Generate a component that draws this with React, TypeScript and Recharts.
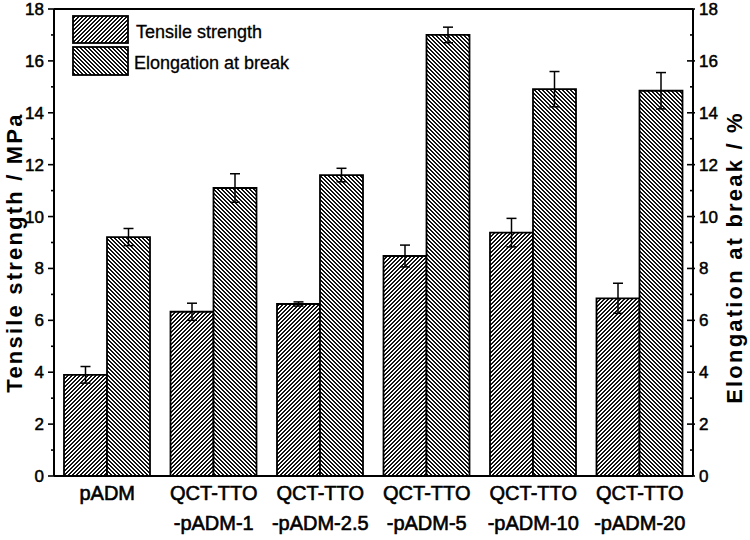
import React from "react";
import { BarChart, Bar, XAxis, YAxis, ErrorBar, ReferenceLine } from "recharts";

const categories = [
  "pADM",
  "QCT-TTO\n-pADM-1",
  "QCT-TTO\n-pADM-2.5",
  "QCT-TTO\n-pADM-5",
  "QCT-TTO\n-pADM-10",
  "QCT-TTO\n-pADM-20",
];
const tensile = [3.9, 6.33, 6.63, 8.48, 9.38, 6.85];
const tensileErr = [0.32, 0.33, 0.08, 0.42, 0.55, 0.58];
const elongation = [9.21, 11.1, 11.6, 17.0, 14.91, 14.85];
const elongationErr = [0.33, 0.55, 0.26, 0.3, 0.68, 0.7];
const yTicks = [0, 1, 2, 3, 4, 5, 6, 7, 8, 9, 10, 11, 12, 13, 14, 15, 16, 17, 18];
const seriesNames = ["Tensile strength", "Elongation at break"];
const leftTitle = "Tensile strength / MPa";
const rightTitle = "Elongation at break / %";

const data = categories.map((c, i) => ({
  name: c,
  tensile: tensile[i],
  tensileErr: tensileErr[i],
  elongation: elongation[i],
  elongationErr: elongationErr[i],
}));

const FONT = "'Liberation Sans', Arial, sans-serif";

// crisp pixel staircase hatch, 4px period
const Hatch = ({ id, dir }: { id: string; dir: "fwd" | "back" }) => {
  const rows = dir === "fwd" ? [2, 1, 0, 3] : [0, 1, 2, 3];
  return (
    <pattern id={id} patternUnits="userSpaceOnUse" x={0} y={0} width={4} height={4}>
      <rect x={0} y={0} width={4} height={4} fill="#fff" />
      {rows.map((c, r) => (
        <g key={r}>
          <rect x={c} y={r} width={c === 3 ? 1 : 2} height={1} fill="#111" shapeRendering="crispEdges" />
          {c === 3 && <rect x={0} y={r} width={1} height={1} fill="#111" shapeRendering="crispEdges" />}
        </g>
      ))}
    </pattern>
  );
};

const LeftTick = (props: any) => {
  const { x, y, payload } = props;
  const v = payload.value;
  const major = v % 2 === 0;
  return (
    <g>
      <line x1={x - (major ? 6 : 3)} x2={x} y1={y} y2={y} stroke="#000" strokeWidth={1.6} />
      {major && (
        <text x={x - 10} y={y} dy="0.35em" textAnchor="end" fontFamily={FONT} fontSize={17} fill="#000" stroke="#000" strokeWidth={0.5}>
          {v}
        </text>
      )}
    </g>
  );
};

const RightTick = (props: any) => {
  const { x, y, payload } = props;
  const v = payload.value;
  const major = v % 2 === 0;
  return (
    <g>
      <line x1={x - (major ? 6 : 3)} x2={x + (major ? 2 : 1)} y1={y} y2={y} stroke="#000" strokeWidth={1.6} />
      {major && (
        <text x={x + 6} y={y} dy="0.35em" textAnchor="start" fontFamily={FONT} fontSize={17} fill="#000" stroke="#000" strokeWidth={0.5}>
          {v}
        </text>
      )}
    </g>
  );
};

const CatTick = (props: any) => {
  const { x, y, payload } = props;
  const lines = String(payload.value).split("\n");
  return (
    <text x={x} y={y} textAnchor="middle" fontFamily={FONT} fontSize={20} fill="#000" stroke="#000" strokeWidth={0.6}>
      {lines.map((l, i) => (
        <tspan key={i} x={x} y={y + 24 + i * 30}>
          {l}
        </tspan>
      ))}
    </text>
  );
};

const AxisTitle = (props: any) => {
  const { viewBox, value, side } = props;
  const vb = viewBox || {};
  const cx = side === "left" ? vb.x + 14 : vb.x + vb.width - 16;
  const cy = vb.y + vb.height / 2 + (side === "left" ? 10 : 15);
  return (
    <text
      x={cx}
      y={cy}
      dy="0.35em"
      textAnchor="middle"
      transform={`rotate(-90, ${cx}, ${cy})`}
      fontFamily={FONT}
      fontSize={22}
      fontWeight="bold"
      letterSpacing={2.2}
      fill="#000"
    >
      {value}
    </text>
  );
};

export default function App() {
  return (
    <div style={{ position: "absolute", left: 0, top: 0, width: 750, height: 540, background: "#fff" }}>
      <BarChart
        width={750}
        height={540}
        data={data}
        margin={{ top: 9, right: 0, bottom: 0, left: 0 }}
        barGap={0}
      >
        <defs>
          <Hatch id="hatchT" dir="fwd" />
          <Hatch id="hatchE" dir="back" />
        </defs>
        <XAxis
          dataKey="name"
          height={64}
          interval={0}
          tickLine={false}
          tickSize={0}
          tickMargin={0}
          axisLine={{ stroke: "#000", strokeWidth: 2 }}
          tick={<CatTick />}
        />
        <YAxis
          yAxisId="left"
          orientation="left"
          width={54}
          domain={[0, 18]}
          ticks={yTicks}
          interval={0}
          tickLine={false}
          tickSize={0}
          tickMargin={0}
          axisLine={{ stroke: "#000", strokeWidth: 2 }}
          tick={<LeftTick />}
          label={<AxisTitle value={leftTitle} side="left" />}
        />
        <YAxis
          yAxisId="right"
          orientation="right"
          width={57}
          domain={[0, 18]}
          ticks={yTicks}
          interval={0}
          tickLine={false}
          tickSize={0}
          tickMargin={0}
          axisLine={{ stroke: "#000", strokeWidth: 2 }}
          tick={<RightTick />}
          label={<AxisTitle value={rightTitle} side="right" />}
        />
        <ReferenceLine yAxisId="left" y={18} stroke="#000" strokeWidth={2} />
        <Bar
          yAxisId="left"
          dataKey="tensile"
          name={seriesNames[0]}
          barSize={43}
          fill="url(#hatchT)"
          stroke="#000"
          strokeWidth={1.8}
          isAnimationActive={false}
        >
          <ErrorBar dataKey="tensileErr" direction="y" width={5} stroke="#000" strokeWidth={1.5} />
        </Bar>
        <Bar
          yAxisId="right"
          dataKey="elongation"
          name={seriesNames[1]}
          barSize={43}
          fill="url(#hatchE)"
          stroke="#000"
          strokeWidth={1.8}
          isAnimationActive={false}
        >
          <ErrorBar dataKey="elongationErr" direction="y" width={5} stroke="#000" strokeWidth={1.5} />
        </Bar>
      </BarChart>
      <svg width={320} height={90} style={{ position: "absolute", left: 0, top: 0 }}>
        <defs>
          <Hatch id="legHatchT" dir="fwd" />
          <Hatch id="legHatchE" dir="back" />
        </defs>
        <rect x={73} y={16} width={55} height={27} fill="url(#legHatchT)" stroke="#000" strokeWidth={1.8} />
        <text x={136} y={38} fontFamily={FONT} fontSize={18} fill="#000" stroke="#000" strokeWidth={0.3}>
          {seriesNames[0]}
        </text>
        <rect x={73} y={47} width={55} height={28} fill="url(#legHatchE)" stroke="#000" strokeWidth={1.8} />
        <text x={134} y={68.5} fontFamily={FONT} fontSize={18} fill="#000" stroke="#000" strokeWidth={0.3}>
          {seriesNames[1]}
        </text>
      </svg>
    </div>
  );
}
